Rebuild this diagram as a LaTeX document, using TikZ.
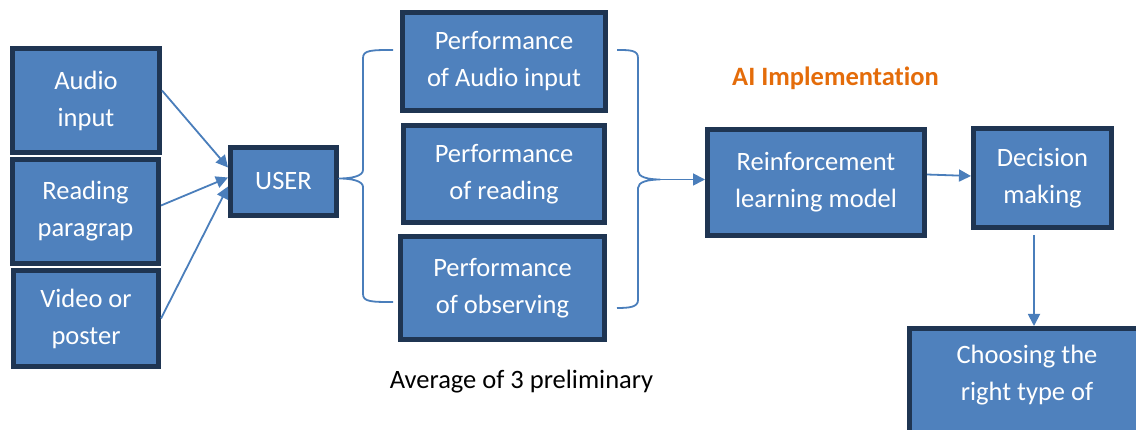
\documentclass[tikz,border=0pt]{standalone}
\usepackage{fontspec}
\setmainfont{Carlito}[Ligatures=NoCommon]
\usetikzlibrary{arrows.meta}
\definecolor{boxfill}{HTML}{4F81BD}
\definecolor{boxline}{HTML}{1F3552}
\definecolor{linkblue}{HTML}{4A7EBB}
\definecolor{aiorange}{HTML}{E46C0A}
\begin{document}
\begin{tikzpicture}[x=1pt,y=-1pt]
	% line widths
	\def\bw{5pt}
	\def\lw{1.8pt}
	% node style definition
	\tikzstyle{box} = [draw=boxline, fill=boxfill, line width=\bw, rectangle, text=white, align=center, inner sep=0pt, font=\fontsize{26.5}{37}\selectfont];
	\tikzstyle{plain} = [draw=none, fill=none, inner sep=0pt, align=center, font=\fontsize{26.5}{37}\selectfont];
	\tikzstyle{link} = [draw=linkblue, line width=\lw, -{Triangle[length=12pt,width=12pt]}];
	\tikzstyle{brace} = [draw=linkblue, line width=\lw, line join=round];
	\clip (0,0) rectangle (1136,430);
	% input boxes
	\node[box, minimum width=147pt, minimum height=104pt] (audio) at (86,100.5) {Audio\\input};
	\node[box, minimum width=146pt, minimum height=104pt] (reading) at (85.5,211.5) {Reading\\paragrap};
	\node[box, minimum width=145pt, minimum height=96pt] (video) at (86,318.5) {Video or\\poster};
	\node[box, minimum width=106pt, minimum height=68pt] (user) at (283.5,181.5) {USER};
	\foreach \src/\ys/\ye in {audio/10/14, reading/6/4, video/0/-5} {
		\draw[link] ([yshift=\ys pt]\src.east) -- ([yshift=\ye pt]user.west);
	}
	% performance boxes
	\node[box, minimum width=203pt, minimum height=98pt] (perfaudio) at (504,61.5) {Performance\\of Audio input};
	\node[box, minimum width=201pt, minimum height=97pt] (perfread) at (504,174) {Performance\\of reading};
	\node[box, minimum width=204pt, minimum height=103pt] (perfobs) at (502.5,288) {Performance\\of observing};
	% braces
	\coordinate (lbtip) at ([yshift=3pt]user.east);
	\draw[brace] (393,50) .. controls (372,50) and (363,50) .. (363,58) -- (363,170)
		.. controls (363,176) and (352,178.5) .. (lbtip)
		.. controls (352,178.5) and (363,181) .. (363,187) -- (363,294)
		.. controls (363,302) and (372,302) .. (393,302);
	\coordinate (rbtip) at (660,179.5);
	\draw[brace] (617,50) .. controls (630,50) and (638,50) .. (638,58) -- (638,171)
		.. controls (638,177) and (648,179.5) .. (rbtip)
		.. controls (648,179.5) and (638,182) .. (638,188) -- (638,300)
		.. controls (638,307) and (630,308) .. (617,308);
	% AI part
	\node[plain, text=aiorange, font=\fontsize{26.5}{37}\selectfont\bfseries] (aititle) at (835.5,78) {AI Implementation};
	\node[box, minimum width=217pt, minimum height=106pt] (reinf) at (816,182.5) {Reinforcement\\learning model};
	\node[box, minimum width=138pt, minimum height=99pt] (decision) at (1042.5,178) {Decision\\making};
	\node[box, minimum width=235pt, minimum height=119pt] (choose) at (1027,388) {};
	\node[plain, text=white] (choosetext) at (1027,375) {Choosing the\\right type of};
	\draw[link] (rbtip) -- ([yshift=3pt]reinf.west);
	\draw[link] ([yshift=8pt]reinf.east) -- ([yshift=2pt]decision.west);
	\coordinate (dstart) at (1034,235);
	\draw[link] (dstart) -- (dstart |- choose.north);
	% note
	\node[plain, text=black] (avgnote) at (521.5,382) {Average of 3 preliminary};
\end{tikzpicture}
\end{document}
